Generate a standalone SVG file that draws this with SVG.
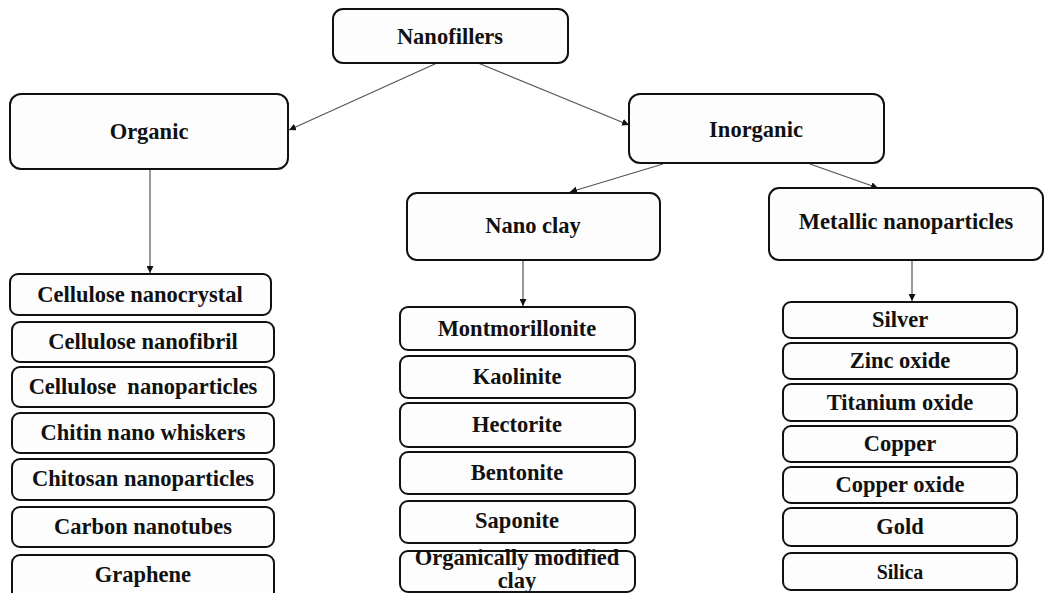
<svg xmlns="http://www.w3.org/2000/svg" width="1046" height="593" viewBox="0 0 1046 593">
<style>
.box{fill:#fdfdfd;stroke:#111;stroke-width:2}
.t{font-family:"Liberation Serif","Times New Roman",serif;font-weight:bold;font-size:22.5px;fill:#111;text-anchor:middle;white-space:pre}
.c{stroke:#555;stroke-width:1.2;fill:none;marker-end:url(#ah)}
</style>
<defs>
<marker id="ah" viewBox="0 0 10 10" refX="10" refY="5" markerWidth="7" markerHeight="7" markerUnits="userSpaceOnUse" orient="auto">
<path d="M0,0 L10,5 L0,10 z" fill="#111"/>
</marker>
</defs>
<rect width="1046" height="593" fill="#fff"/>
<g id="connectors">
<line class="c" x1="437" y1="63" x2="289" y2="130"/>
<line class="c" x1="478" y1="63" x2="629" y2="125"/>
<line class="c" x1="150" y1="169" x2="150" y2="273"/>
<line class="c" x1="663" y1="164" x2="570" y2="192"/>
<line class="c" x1="810" y1="164" x2="878" y2="188"/>
<line class="c" x1="523" y1="260" x2="523" y2="306"/>
<line class="c" x1="912" y1="260" x2="912" y2="301"/>
</g>
<g id="nanofillers"><rect class="box" x="333" y="9" width="235" height="54" rx="10"/><text class="t" x="450" y="44">Nanofillers</text></g>
<g id="organic"><rect class="box" x="10" y="94" width="278" height="75" rx="11"/><text class="t" x="149" y="139">Organic</text></g>
<g id="inorganic"><rect class="box" x="629" y="94" width="255" height="69" rx="11"/><text class="t" x="756" y="137">Inorganic</text></g>
<g id="nanoclay"><rect class="box" x="407" y="193" width="253" height="67" rx="10"/><text class="t" x="533" y="233">Nano clay</text></g>
<g id="metallic"><rect class="box" x="769" y="188" width="274" height="72" rx="10"/><text class="t" x="906" y="229">Metallic nanoparticles</text></g>

<g id="cellulose-nanocrystal"><rect class="box" x="10" y="274" width="261" height="41" rx="8"/><text class="t" x="140" y="302">Cellulose nanocrystal</text></g>
<g id="cellulose-nanofibril"><rect class="box" x="12" y="322" width="262" height="40" rx="8"/><text class="t" x="143" y="349">Cellulose nanofibril</text></g>
<g id="cellulose-nanoparticles"><rect class="box" x="12" y="367" width="262" height="40" rx="8"/><text class="t" x="143" y="394">Cellulose  nanoparticles</text></g>
<g id="chitin"><rect class="box" x="12" y="413" width="262" height="40" rx="8"/><text class="t" x="143" y="440">Chitin nano whiskers</text></g>
<g id="chitosan"><rect class="box" x="12" y="459" width="262" height="41" rx="8"/><text class="t" x="143" y="486">Chitosan nanoparticles</text></g>
<g id="cnt"><rect class="box" x="12" y="507" width="262" height="40" rx="8"/><text class="t" x="143" y="534">Carbon nanotubes</text></g>
<g id="graphene"><rect class="box" x="12" y="555" width="262" height="50" rx="8"/><text class="t" x="143" y="582">Graphene</text></g>

<g id="montmorillonite"><rect class="box" x="400" y="307" width="235" height="43" rx="8"/><text class="t" x="517" y="336">Montmorillonite</text></g>
<g id="kaolinite"><rect class="box" x="400" y="356" width="235" height="42" rx="8"/><text class="t" x="517" y="384">Kaolinite</text></g>
<g id="hectorite"><rect class="box" x="400" y="403" width="235" height="44" rx="8"/><text class="t" x="517" y="432">Hectorite</text></g>
<g id="bentonite"><rect class="box" x="400" y="452" width="235" height="42" rx="8"/><text class="t" x="517" y="480">Bentonite</text></g>
<g id="saponite"><rect class="box" x="400" y="501" width="235" height="42" rx="8"/><text class="t" x="517" y="528">Saponite</text></g>
<g id="omc"><rect class="box" x="400" y="551" width="235" height="41" rx="8"/><text class="t" x="517" y="565">Organically modified</text><text class="t" x="517" y="588">clay</text></g>

<g id="silver"><rect class="box" x="783" y="302" width="234" height="36" rx="8"/><text class="t" x="900" y="327">Silver</text></g>
<g id="zinc-oxide"><rect class="box" x="783" y="343" width="234" height="36" rx="8"/><text class="t" x="900" y="368">Zinc oxide</text></g>
<g id="titanium-oxide"><rect class="box" x="783" y="384" width="234" height="37" rx="8"/><text class="t" x="900" y="410">Titanium oxide</text></g>
<g id="copper"><rect class="box" x="783" y="426" width="234" height="36" rx="8"/><text class="t" x="900" y="451">Copper</text></g>
<g id="copper-oxide"><rect class="box" x="783" y="467" width="234" height="36" rx="8"/><text class="t" x="900" y="492">Copper oxide</text></g>
<g id="gold"><rect class="box" x="783" y="508" width="234" height="38" rx="8"/><text class="t" x="900" y="534">Gold</text></g>
<g id="silica"><rect class="box" x="783" y="553" width="234" height="37" rx="8"/><text class="t" x="900" y="579" style="font-size:20px">Silica</text></g>
</svg>
